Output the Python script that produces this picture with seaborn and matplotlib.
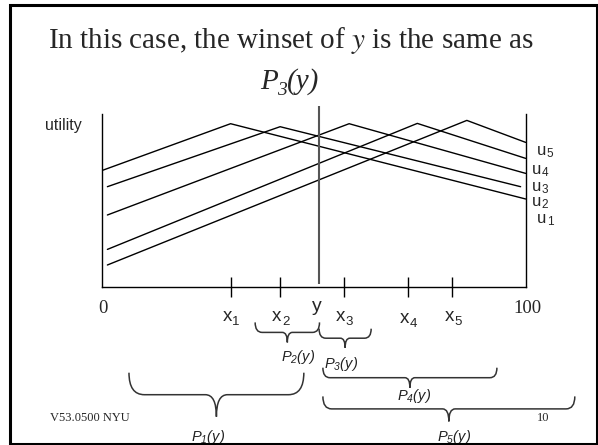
import numpy as np
import pandas as pd
import matplotlib.pyplot as plt
import seaborn as sns
from matplotlib.path import Path
from matplotlib.patches import PathPatch, Rectangle

# utility curves (peak = ideal point), utility in arbitrary units
voters = ['u1', 'u2', 'u3', 'u4', 'u5']
start_x = [0, 1.2, 1.2, 1.2, 1.2]
start_u = [116.3, 100.0, 71.7, 37.3, 21.7]
peak_x = [30.3, 42.0, 58.3, 74.4, 86.1]
peak_u = [163.0, 160.0, 163.0, 163.3, 166.3]
end_x = [100, 98.8, 100, 100, 100]
end_u = [87.7, 100.0, 113.3, 128.3, 144.3]

tick_names = ['x1', 'x2', 'x3', 'x4', 'x5']
tick_pos = [30.3, 42.0, 57.1, 72.2, 82.7]
status_quo = 51.2

# preferred-to sets P_i(y)
set_names = ['P_1(y)', 'P_2(y)', 'P_3(y)', 'P_4(y)', 'P_5(y)']
set_lo = [6.3, 36.1, 51.2, 52.1, 52.1]
set_hi = [47.6, 51.3, 63.5, 93.2, 111.6]

rows = []
for i, v in enumerate(voters):
    rows.append((v, 0, start_x[i], start_u[i]))
    rows.append((v, 1, peak_x[i], peak_u[i]))
    rows.append((v, 2, end_x[i], end_u[i]))
df = pd.DataFrame(rows, columns=['voter', 'k', 'position', 'utility'])

sns.set_style('white')
plt.rcParams['font.family'] = ['Liberation Sans', 'DejaVu Sans']
# the P_i(y) labels are fully italic, digits and brackets included
plt.rcParams['mathtext.fontset'] = 'custom'
plt.rcParams['mathtext.rm'] = 'Liberation Sans:italic'
plt.rcParams['mathtext.it'] = 'Liberation Sans:italic'

W, H = 598, 445
fig = plt.figure(figsize=(W / 100, H / 100), dpi=100)
ax = fig.add_axes([102.3 / W, 1 - 286.7 / H, 423.4 / W, 172.4 / H])
ax.set_facecolor('none')

sns.lineplot(data=df, x='position', y='utility', hue='voter', units='voter',
             estimator=None, sort=False, palette=['black'] * 5, legend=False,
             linewidth=1, ax=ax)
ax.set_xlim(0, 100)
ax.set_ylim(0, 172.4)
ax.set_xlabel('')
ax.set_ylabel('')
ax.set_yticks([])
ax.set_xticks(tick_pos)
ax.set_xticklabels([])
ax.tick_params(axis='x', direction='inout', length=15, width=1, color='black', bottom=True)
ax.spines['top'].set_visible(False)
for s in ['left', 'right', 'bottom']:
    ax.spines[s].set_color('black')
    ax.spines[s].set_linewidth(1)

# status quo line
ax.vlines(status_quo, 3, 181, color='#555555', linewidth=1.5, clip_on=False)


def subscripted(axes, x, y, base, sub, size, sub_size, drop=-2.2, ha='left', **kw):
    t = axes.text(x, y, base, fontsize=size, ha=ha, va='baseline', **kw)
    axes.annotate(sub, xy=(1, 0), xycoords=t, xytext=(0.3, drop),
                  textcoords='offset points', fontsize=sub_size,
                  ha='left', va='bottom', **kw)
    return t


# axis annotations
ax.text(0.2, -26.3, '0', family='Liberation Serif', fontsize=13.5, ha='center', va='baseline')
ax.text(100.3, -26.3, '100', family='Liberation Serif', fontsize=13.5, ha='center', va='baseline')
ax.text(status_quo - 0.6, -24, 'y', fontsize=14, ha='center', va='baseline')
for name, xp in zip(tick_names, tick_pos):
    dy = -2 if name == 'x4' else 0
    subscripted(ax, xp - 0.8, -34 + dy, name[0], name[1], 13.5, 9.5, ha='center')
ax.text(-13.5, 161, 'utility', fontsize=11.5, ha='left', va='center')

u_left = [102.7, 101.4, 101.4, 101.4, 102.7]
u_base = [63.5, 81, 96, 113, 132]
for i, v in enumerate(voters):
    subscripted(ax, u_left[i], u_base[i], v[0], v[1], 12, 8.5, drop=-1.5)

# braces for the P_i(y) sets
kx = 100 / 423.4


def brace(x0, x1, top, depth):
    mid = top - depth / 2
    tip = top - depth
    xc = (x0 + x1) / 2
    re = 0.7 * depth / 2 * kx
    rc = 0.5 * depth / 2 * kx
    verts = [(x0, top), (x0, mid), (x0 + re, mid),
             (xc - rc, mid), (xc, mid), (xc, tip),
             (xc, mid), (xc + rc, mid),
             (x1 - re, mid), (x1, mid), (x1, top)]
    codes = [Path.MOVETO, Path.CURVE3, Path.CURVE3,
             Path.LINETO, Path.CURVE3, Path.CURVE3,
             Path.CURVE3, Path.CURVE3,
             Path.LINETO, Path.CURVE3, Path.CURVE3]
    ax.add_patch(PathPatch(Path(verts, codes), fill=False, edgecolor='#333333',
                           linewidth=1.1, clip_on=False))


brace_top = [-86, -35.7, -42, -81, -109.7]
brace_depth = [44, 20, 19, 20, 25]
label_dx = [-2.0, 2.6, -0.9, 1.0, 1.2]
label_y = [-154.7, -74, -81, -113, -154.7]
for i, name in enumerate(set_names):
    brace(set_lo[i], set_hi[i], brace_top[i], brace_depth[i])
    xc = (set_lo[i] + set_hi[i]) / 2
    ax.text(xc + label_dx[i], label_y[i], r'$%s$' % name, fontsize=10.5,
            ha='center', va='baseline', color='#222222')

# slide overlay: title, footer, frame
ov = fig.add_axes([0, 0, 1, 1], zorder=5)
ov.set_xlim(0, W)
ov.set_ylim(H, 0)
ov.axis('off')
ov.patch.set_alpha(0)
ov.text(291, 48, r'In this case, the winset of $\mathit{y}$ is the same as',
        family='Liberation Serif', math_fontfamily='stix', fontsize=21,
        ha='center', va='baseline')
serif_it = dict(family='Liberation Serif', style='italic')
p = ov.text(260, 89, 'P', fontsize=21, ha='left', va='baseline', **serif_it)
s3 = ov.annotate('3', xy=(1, 0), xycoords=p, xytext=(-0.5, -3),
                 textcoords='offset points', fontsize=14, ha='left', va='bottom', **serif_it)
ov.annotate('(y)', xy=(1, 0), xycoords=(s3, p), xytext=(0, 0),
            textcoords='offset points', fontsize=21, ha='left', va='bottom', **serif_it)
ov.text(50, 418, 'V53.0500 NYU', family='Liberation Serif', fontsize=9,
        ha='left', va='center')
ov.text(543, 418, '10', family='Liberation Serif', fontsize=9, ha='center', va='center')
ov.add_patch(Rectangle((9.5, 5), 587.5, 438.5, fill=False, edgecolor='black',
                       linewidth=2.2, clip_on=False))

fig.savefig('out.png', dpi=100)
